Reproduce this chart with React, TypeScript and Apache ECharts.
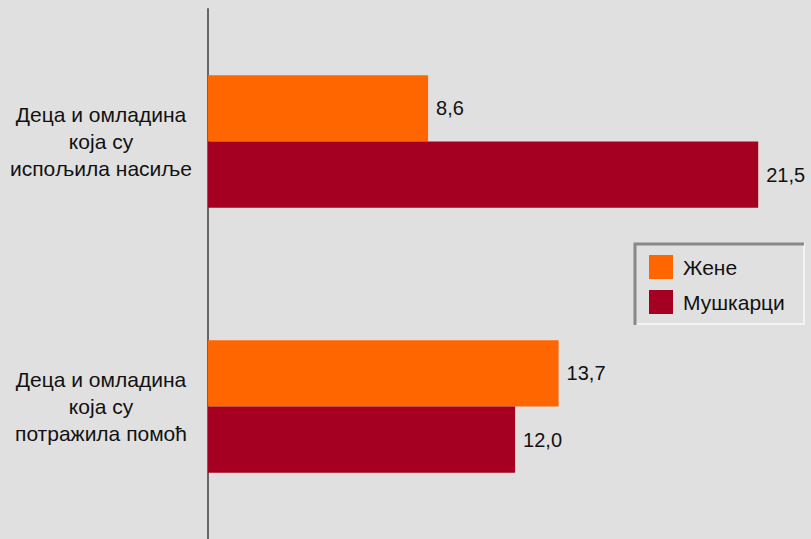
import React, { useEffect, useRef } from "react";
import * as echarts from "echarts";

const categories = [
  "Деца и омладина\nкоја су\nиспољила насиље",
  "Деца и омладина\nкоја су\nпотражила помоћ",
];
const seriesNames = ["Жене", "Мушкарци"];
const womenValues = [8.6, 13.7];
const menValues = [21.5, 12.0];
const colors = ["#ff6600", "#a50021"];

export default function App() {
  const ref = useRef<HTMLDivElement>(null);
  useEffect(() => {
    document.body.style.margin = "0";
    const chart = echarts.init(ref.current!, null, { renderer: "svg" });
    const fmt = (p: any) => Number(p.value).toFixed(1).replace(".", ",");
    const labelCfg = {
      show: true,
      position: "right",
      distance: 8,
      formatter: fmt,
      color: "#111",
      fontSize: 20,
      fontFamily: "Liberation Sans, Arial, sans-serif",
    };
    chart.setOption({
      animation: false,
      backgroundColor: "#e0e0e0",
      textStyle: { fontFamily: "Liberation Sans, Arial, sans-serif" },
      grid: { left: 208, right: 40, top: 9, height: 532 },
      xAxis: { type: "value", min: 0, max: 22, show: false },
      yAxis: {
        type: "category",
        data: categories,
        inverse: true,
        axisLine: { show: true, lineStyle: { color: "#666", width: 2 } },
        axisTick: { show: false },
        splitLine: { show: false },
        axisLabel: {
          align: "center",
          margin: 107,
          color: "#111",
          fontSize: 21,
          lineHeight: 27,
        },
      },
      legend: {
        left: 649,
        top: 255,
        orient: "vertical",
        icon: "rect",
        itemWidth: 24,
        itemHeight: 24,
        itemGap: 11,
        padding: 0,
        textStyle: { fontSize: 21, color: "#111", padding: [0, 0, 0, 5] },
        data: seriesNames,
      },
      graphic: [
        {
          type: "polyline",
          shape: { points: [[803, 244], [804, 244], [804, 324], [635, 324]] },
          style: { stroke: "#f4f4f4", lineWidth: 2, fill: "none" },
        },
        {
          type: "polyline",
          shape: { points: [[635, 325], [635, 244], [804, 244]] },
          style: { stroke: "#888", lineWidth: 3, fill: "none" },
        },
      ],
      series: [
        {
          name: seriesNames[0],
          type: "bar",
          data: womenValues,
          itemStyle: { color: colors[0] },
          barGap: "0%",
          barCategoryGap: "50%",
          label: labelCfg,
        },
        {
          name: seriesNames[1],
          type: "bar",
          data: menValues,
          itemStyle: { color: colors[1] },
          barGap: "0%",
          barCategoryGap: "50%",
          label: labelCfg,
        },
      ],
    });
    return () => chart.dispose();
  }, []);
  return <div ref={ref} style={{ width: 811, height: 539 }} />;
}
